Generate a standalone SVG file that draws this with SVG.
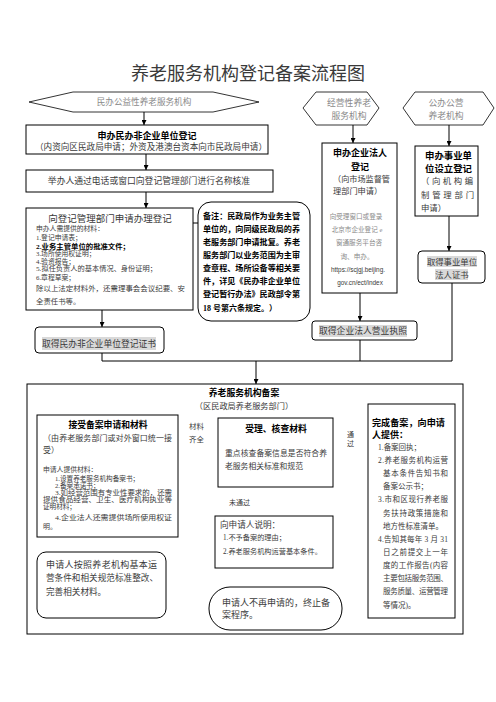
<svg xmlns="http://www.w3.org/2000/svg" width="496" height="702" viewBox="0 0 496 702">
<style>
text{font-family:"Liberation Serif","Noto Sans CJK SC",serif;fill:#3a3a3a}
.b{font-weight:bold;fill:#000}
.g{fill:#8a8a8a}
.box{fill:#fff;stroke:#000;stroke-width:1}
.hex{fill:#fff;stroke:#000;stroke-width:0.8}
.ln{fill:none;stroke:#000;stroke-width:1}
.hl{fill:#d9d9d9}
.gs{font-family:"Noto Sans CJK SC",sans-serif}
.lat{font-family:"Liberation Sans","Noto Sans CJK SC",sans-serif}
</style>
<defs>
<marker id="ah" viewBox="0 0 10 10" refX="10" refY="5" markerWidth="5" markerHeight="5" orient="auto" markerUnits="userSpaceOnUse"><path d="M0,0L10,5L0,10z" fill="#000"/></marker>
</defs>
<rect width="496" height="702" fill="#fff"/>
<text x="248" y="80" font-size="18" text-anchor="middle" fill="#333">养老服务机构登记备案流程图</text>

<g id="connectors">
<line class="ln" x1="144" y1="112" x2="144" y2="125" marker-end="url(#ah)"/>
<line class="ln" x1="146" y1="154" x2="146" y2="170" marker-end="url(#ah)"/>
<line class="ln" x1="146" y1="192" x2="146" y2="208" marker-end="url(#ah)"/>
<line class="ln" x1="102" y1="310" x2="102" y2="327" marker-end="url(#ah)"/>
<line class="ln" x1="353" y1="125" x2="353" y2="143" marker-end="url(#ah)"/>
<line class="ln" x1="449" y1="125" x2="449" y2="146" marker-end="url(#ah)"/>
<line class="ln" x1="449" y1="216" x2="449" y2="251" marker-end="url(#ah)"/>
<line class="ln" x1="360" y1="293" x2="360" y2="321" marker-end="url(#ah)"/>
<polyline class="ln" points="102,353 102,361 452,361"/>
<line class="ln" x1="360" y1="340" x2="360" y2="361"/>
<line class="ln" x1="452" y1="283" x2="452" y2="361"/>
<line class="ln" x1="256" y1="361" x2="256" y2="384" marker-end="url(#ah)"/>
<polyline class="ln" points="102,251 183,251 183,223 198,223"/>
<line class="ln" x1="182" y1="455" x2="218" y2="455" marker-end="url(#ah)"/>
<line class="ln" x1="336" y1="457" x2="368" y2="457" marker-end="url(#ah)"/>
<line class="ln" x1="270" y1="487" x2="270" y2="516" marker-end="url(#ah)"/>
<line class="ln" x1="215" y1="563" x2="167" y2="563" marker-end="url(#ah)"/>
<line class="ln" x1="270" y1="568" x2="270" y2="587" marker-end="url(#ah)"/>
<line class="ln" x1="99" y1="552" x2="99" y2="537" marker-end="url(#ah)"/>
</g>

<g id="hex-minban">
<polygon class="hex" points="29,102 73,92 213,92 259,102 213,112 73,112"/>
<text class="g" x="144" y="105" font-size="8.6" text-anchor="middle">民办公益性养老服务机构</text>
</g>

<g id="hex-jingying">
<polygon class="hex" points="303,108 316,92 367,92 379,108 367,125 316,125"/>
<text class="g" x="349" y="106" font-size="8.8" text-anchor="middle">经营性养老</text>
<text class="g" x="349" y="119" font-size="8.8" text-anchor="middle">服务机构</text>
</g>

<g id="hex-gongban">
<polygon class="hex" points="403,108 415,92 483,92 494,108 483,125 415,125"/>
<text class="g" x="446" y="106" font-size="8.8" text-anchor="middle">公办公营</text>
<text class="g" x="446" y="119" font-size="8.8" text-anchor="middle">养老机构</text>
</g>

<g id="box-minfei">
<rect class="box" x="26" y="125" width="242" height="29"/>
<text class="b" x="147" y="139" font-size="9" text-anchor="middle">申办民办非企业单位登记</text>
<text x="151" y="150" font-size="8.6" text-anchor="middle" textLength="232" lengthAdjust="spacingAndGlyphs">（内资向区民政局申请；外资及港澳台资本向市民政局申请）</text>
</g>

<g id="box-mingcheng">
<rect class="box" x="26" y="170" width="247" height="22"/>
<text x="149" y="184" font-size="8.8" text-anchor="middle">举办人通过电话或窗口向登记管理部门进行名称核准</text>
</g>

<g id="box-shenqing">
<rect class="box" x="26" y="208" width="167" height="102"/>
<text x="110" y="222" font-size="9.5" text-anchor="middle">向登记管理部门申请办理登记</text>
<text x="36" y="231" font-size="6.8">申办人需提供的材料：</text>
<text x="36" y="240" font-size="6.8">1.登记申请表；</text>
<text class="b" x="36" y="248.5" font-size="6.8" textLength="94" lengthAdjust="spacingAndGlyphs">2.业务主管单位的批准文件；</text>
<text x="36" y="256" font-size="6.8">3.场所使用权证明；</text>
<text x="36" y="263.5" font-size="6.8">4.验资报告；</text>
<text x="36" y="271" font-size="6.8" textLength="121" lengthAdjust="spacingAndGlyphs">5.拟任负责人的基本情况、身份证明；</text>
<text x="36" y="280" font-size="6.8">6.章程草案；</text>
<text x="36" y="291" font-size="7.4" textLength="149" lengthAdjust="spacingAndGlyphs">除以上法定材料外，还需理事会会议纪要、安</text>
<text x="36" y="304" font-size="7.4">全责任书等。</text>
</g>

<g id="note">
<rect class="box" x="198" y="202" width="112" height="119" rx="13"/>
<text class="b" font-size="8" textLength="97" lengthAdjust="spacingAndGlyphs" x="203" y="219">备注：民政局作为业务主管</text>
<text class="b" font-size="8" textLength="97" lengthAdjust="spacingAndGlyphs" x="203" y="232">单位的，向同级民政局的养</text>
<text class="b" font-size="8" textLength="97" lengthAdjust="spacingAndGlyphs" x="203" y="245">老服务部门申请批复。养老</text>
<text class="b" font-size="8" textLength="97" lengthAdjust="spacingAndGlyphs" x="203" y="258">服务部门以业务范围为主审</text>
<text class="b" font-size="8" textLength="97" lengthAdjust="spacingAndGlyphs" x="203" y="271">查章程、场所设备等相关要</text>
<text class="b" font-size="8" textLength="97" lengthAdjust="spacingAndGlyphs" x="203" y="284">件，详见《民办非企业单位</text>
<text class="b" font-size="8" textLength="97" lengthAdjust="spacingAndGlyphs" x="203" y="297">登记暂行办法》民政部令第</text>
<text class="b" font-size="8" x="203" y="311">18 号第六条规定。）</text>
</g>

<g id="box-zhengshu">
<rect class="box" x="35" y="327" width="129" height="26" rx="4"/>
<rect class="hl" x="42" y="337" width="114" height="13"/>
<text class="gs" x="42" y="347" font-size="8.8" fill="#222" textLength="114" lengthAdjust="spacingAndGlyphs">取得民办非企业单位登记证书</text>
</g>

<g id="box-qiye">
<rect class="box" x="322" y="143" width="75" height="150"/>
<text class="b" x="360" y="156" font-size="9" text-anchor="middle">申办企业法人</text>
<text class="b" x="360" y="170" font-size="9" text-anchor="middle">登记</text>
<text x="333" y="182" font-size="8.2" textLength="57" lengthAdjust="spacingAndGlyphs">（向市场监督管</text>
<text x="333" y="194" font-size="8.2">理部门申请）</text>
<text class="g" x="356" y="219" font-size="6.6" text-anchor="middle">向受理窗口或登录</text>
<text class="g" x="357" y="232" font-size="6.6" text-anchor="middle">北京市企业登记 e</text>
<text class="g" x="359" y="245" font-size="6.6" text-anchor="middle">窗通服务平台咨</text>
<text class="g" x="357" y="259" font-size="6.6" text-anchor="middle">询、申办。</text>
<text class="lat" x="358" y="272" font-size="6.4" text-anchor="middle" fill="#444">https://scjgj.beijing.</text>
<text class="lat" x="360" y="285" font-size="6.4" text-anchor="middle" fill="#444">gov.cn/ect/index</text>
</g>

<g id="box-yingye">
<rect class="box" x="312" y="321" width="105" height="19" rx="3"/>
<rect class="hl" x="319" y="325" width="88" height="12"/>
<text x="319" y="334" font-size="8.8" fill="#555" textLength="88" lengthAdjust="spacingAndGlyphs">取得企业法人营业执照</text>
</g>

<g id="box-shiye">
<rect class="box" x="415" y="146" width="63" height="70"/>
<text class="b" x="425" y="159" font-size="9.4" textLength="47" lengthAdjust="spacingAndGlyphs">申办事业单</text>
<text class="b" x="425" y="172" font-size="9.4" textLength="47" lengthAdjust="spacingAndGlyphs">位设立登记</text>
<text x="421" y="184" font-size="8.4" textLength="52" lengthAdjust="spacing">（向机构编</text>
<text x="421" y="198" font-size="8.4" textLength="53" lengthAdjust="spacing">制管理部门</text>
<text x="421" y="211" font-size="8.4">申请）</text>
</g>

<g id="box-faren">
<rect class="box" x="418" y="251" width="67" height="32" rx="4"/>
<rect class="hl" x="427" y="256" width="50" height="11"/>
<rect class="hl" x="435" y="269" width="33" height="11"/>
<text x="452" y="265" font-size="8.4" fill="#555" text-anchor="middle">取得事业单位</text>
<text x="452" y="278" font-size="8.4" fill="#555" text-anchor="middle">法人证书</text>
</g>

<g id="beian">
<rect class="box" x="27" y="384" width="436" height="250"/>
<text class="b" x="244" y="396" font-size="8.8" text-anchor="middle">养老服务机构备案</text>
<text x="244" y="409" font-size="8.2" text-anchor="middle">（区民政局养老服务部门）</text>
</g>

<g id="box-jieshou">
<rect class="box" x="37" y="415" width="141" height="122"/>
<text class="b" x="108" y="428" font-size="8.8" text-anchor="middle">接受备案申请和材料</text>
<text x="43" y="441" font-size="8" textLength="129" lengthAdjust="spacing">（由养老服务部门或对外窗口统一接</text>
<text x="43" y="453" font-size="8">受）</text>
<text x="43" y="472" font-size="6.8">申请人提供材料：</text>
<text x="55" y="481" font-size="6.6">1.设置养老服务机构备案书；</text>
<text x="55" y="488" font-size="6.6">2.备案承诺书；</text>
<text x="55" y="495" font-size="6.6" textLength="117" lengthAdjust="spacingAndGlyphs">3.如经营范围有专业性要求的，还需</text>
<text x="43" y="502" font-size="6.6" textLength="129" lengthAdjust="spacingAndGlyphs">提供食品经营、卫生、医疗机构执业等</text>
<text x="43" y="509" font-size="6.6">证明材料；</text>
<text x="55" y="520" font-size="7" textLength="117" lengthAdjust="spacingAndGlyphs">4.企业法人还需提供场所使用权证</text>
<text x="43" y="529" font-size="7">明。</text>
</g>

<g id="label-qiquan">
<text x="189" y="429" font-size="7.4">材料</text>
<text x="189" y="442" font-size="7.4">齐全</text>
</g>

<g id="box-heicha">
<rect class="box" x="218" y="418" width="115" height="69"/>
<text class="b" x="276" y="432" font-size="8.8" text-anchor="middle">受理、核查材料</text>
<text x="225" y="456" font-size="7.8" textLength="102" lengthAdjust="spacing">重点核查备案信息是否符合养</text>
<text x="225" y="469" font-size="7.8">老服务相关标准和规范</text>
</g>

<g id="label-tongguo">
<text x="347" y="437" font-size="7">通</text>
<text x="347" y="446" font-size="7">过</text>
</g>
<g id="label-weitongguo">
<text x="229" y="505" font-size="7">未通过</text>
</g>

<g id="box-shuoming">
<rect class="box" x="215" y="516" width="118" height="52"/>
<text x="220" y="528" font-size="8.6">向申请人说明：</text>
<text x="223" y="540" font-size="7.2">1.不予备案的理由；</text>
<text x="223" y="554" font-size="7.2">2.养老服务机构运营基本条件。</text>
</g>

<g id="box-zhenggai">
<rect class="box" x="37" y="552" width="129" height="66" rx="9"/>
<text x="46" y="568" font-size="9" textLength="111" lengthAdjust="spacing">申请人按照养老机构基本运</text>
<text x="46" y="581" font-size="8.6" textLength="112" lengthAdjust="spacing">营条件和相关规范标准整改、</text>
<text x="46" y="595" font-size="8.6">完善相关材料。</text>
</g>

<g id="box-zhongzhi">
<rect class="box" x="209" y="587" width="133" height="43" rx="21"/>
<text x="222" y="606" font-size="9" textLength="108" lengthAdjust="spacing">申请人不再申请的，终止备</text>
<text x="222" y="618" font-size="9">案程序。</text>
</g>

<g id="box-wancheng">
<rect class="box" x="368" y="404" width="87" height="214"/>
<text class="b" x="372" y="426" font-size="9" textLength="73" lengthAdjust="spacingAndGlyphs">完成备案，向申请</text>
<text class="b" x="372" y="438" font-size="9">人提供：</text>
<text x="378" y="450" font-size="7.5">1.备案回执；</text>
<text x="378" y="463" font-size="7.5" textLength="70" lengthAdjust="spacing">2.养老服务机构运营</text>
<text x="383" y="476" font-size="7.5" textLength="65" lengthAdjust="spacing">基本条件告知书和</text>
<text x="383" y="489" font-size="7.5">备案公示书；</text>
<text x="378" y="502" font-size="7.5" textLength="70" lengthAdjust="spacing">3.市和区现行养老服</text>
<text x="383" y="516" font-size="7.5" textLength="65" lengthAdjust="spacing">务扶持政策措施和</text>
<text x="383" y="529" font-size="7.5">地方性标准清单。</text>
<text x="378" y="542" font-size="7.5" textLength="70" lengthAdjust="spacing">4.告知其每年 3 月 31</text>
<text x="383" y="555" font-size="7.5" textLength="65" lengthAdjust="spacing">日之前提交上一年</text>
<text x="383" y="568" font-size="7.5" textLength="65" lengthAdjust="spacing">度的工作报告(内容</text>
<text x="383" y="581" font-size="7.5" textLength="65" lengthAdjust="spacing">主要包括服务范围、</text>
<text x="383" y="594" font-size="7.5" textLength="65" lengthAdjust="spacing">服务质量、运营管理</text>
<text x="383" y="608" font-size="7.5">等情况)。</text>
</g>
</svg>
